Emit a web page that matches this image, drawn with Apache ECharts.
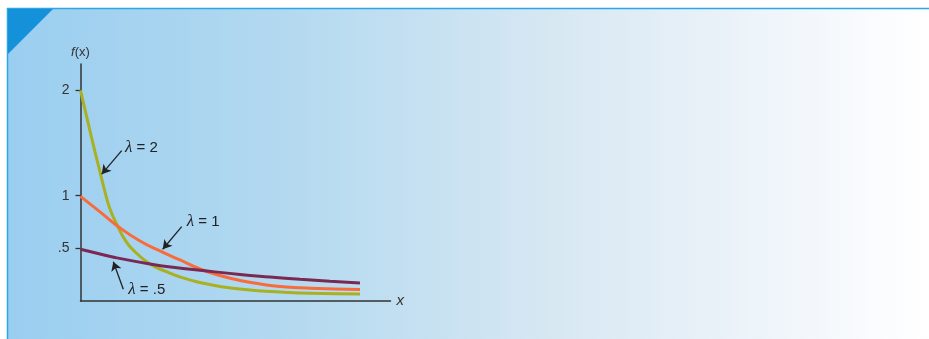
<!DOCTYPE html>
<html><head><meta charset="utf-8">
<script src="https://cdn.jsdelivr.net/npm/echarts@6/dist/echarts.min.js"></script>
<style>html,body{margin:0;padding:0;background:#fff}#c{width:929px;height:339px}</style>
</head><body><div id="c"></div>
<script>
// Curves: [x, f(x)]
const lambda2 = [[0,2.0],[0.095,1.615],[0.145,1.416],[0.195,1.226],[0.245,1.036],[0.295,0.874],[0.375,0.703],[0.445,0.58],[0.525,0.485],[0.695,0.352],[0.865,0.276],[1.025,0.219],[1.195,0.176],[1.395,0.138],[1.695,0.105],[1.995,0.086],[2.295,0.073],[2.795,0.067]];
const lambda1 = [[0,0.993],[0.195,0.846],[0.375,0.708],[0.595,0.57],[0.815,0.466],[0.995,0.39],[1.195,0.304],[1.395,0.242],[1.595,0.195],[1.795,0.162],[1.995,0.138],[2.295,0.121],[2.795,0.109]];
const lambdaHalf = [[0,0.491],[0.195,0.447],[0.345,0.413],[0.695,0.352],[0.945,0.318],[1.195,0.292],[1.595,0.252],[1.895,0.228],[2.195,0.206],[2.495,0.187],[2.795,0.171]];
const yTicks = [0.5, 1, 2];
const yTickLabels = {0.5: '.5', 1: '1', 2: '2'};
const seriesNames = ['λ = 2', 'λ = 1', 'λ = .5'];
const seriesLambda = ['2', '1', '.5'];
// annotation arrows: [from, to] and label anchor (data units)
const arrow2 = [[0.412,1.428],[0.212,1.204]];
const arrow1 = [[1.012,0.706],[0.822,0.491]];
const arrowHalf = [[0.428,0.111],[0.328,0.373]];
const label2 = [0.445,1.454];
const label1 = [1.062,0.75];
const labelHalf = [0.478,0.105];

const chart = echarts.init(document.getElementById('c'), null, {renderer:'canvas'});
const FONT = '"Liberation Sans", Arial, sans-serif';
function ann(from, to, lab, lam){
  return {
    markLine: {
      silent: true, symbol: ['none','arrow'], symbolSize: [8,9],
      lineStyle: {color:'#222', width:1.3, type:'solid'},
      label: {show:false},
      data: [[{coord: from}, {coord: to}]]
    },
    markPoint: {
      silent: true, symbol: 'circle', symbolSize: 0,
      data: [{coord: lab}],
      label: {show:true, position:'right', distance:0, formatter: '{l|λ} = ' + lam, color:'#222',
        fontFamily: FONT, fontSize: 15,
        rich: {l: {fontFamily: '"Liberation Serif", serif', fontStyle:'italic', fontSize:17, color:'#222'}}}
    }
  };
}
const common = {type:'line', smooth:0.5, showSymbol:false, silent:true, z:3};
chart.setOption({
  backgroundColor: '#ffffff',
  animation: false,
  graphic: [
    {type:'rect', z:-10, shape:{x:8,y:9,width:921,height:330},
      style:{fill:{type:'linear',x:0,y:0,x2:1,y2:0,colorStops:[
        {offset:0,color:'#9ACEF0'},{offset:0.3,color:'#B3D9F0'},
        {offset:0.6,color:'#D8E8F3'},{offset:0.85,color:'#F1F6FB'},{offset:1,color:'#FFFFFF'}]}}},
    {type:'line', z:-9, shape:{x1:7,y1:8.5,x2:929,y2:8.5}, style:{stroke:'#2BA7E7',lineWidth:1.5}},
    {type:'line', z:-9, shape:{x1:7.5,y1:8,x2:7.5,y2:339}, style:{stroke:'#2BA7E7',lineWidth:1.5}},
    {type:'polygon', z:-8, shape:{points:[[8,9],[53,9],[8,54]]}, style:{fill:'#1591D9'}}
  ],
  grid: {left:80.5, right:538.5, top:64, bottom:38, containLabel:false},
  xAxis: {
    type:'value', min:0, max:3.1,
    name:'x', nameLocation:'end', nameGap:6,
    nameTextStyle:{fontFamily:FONT, fontSize:15, fontStyle:'italic', color:'#333', verticalAlign:'middle'},
    axisLine:{show:true, onZero:false, lineStyle:{color:'#333', width:1.5}},
    axisTick:{show:false}, axisLabel:{show:false}, splitLine:{show:false}
  },
  yAxis: {
    type:'value', min:0, max:2.25,
    name:'{i|f}(x)', nameLocation:'end', nameGap:5,
    nameTextStyle:{fontFamily:FONT, fontSize:13, color:'#333', align:'center',
      rich:{i:{fontStyle:'italic', fontFamily:FONT, fontSize:13, color:'#333'}}},
    axisLine:{show:true, onZero:false, lineStyle:{color:'#333', width:1.5}},
    axisTick:{show:true, length:5, customValues: yTicks, lineStyle:{color:'#333', width:1.3}},
    axisLabel:{show:true, margin:11, customValues: yTicks, fontFamily:FONT, fontSize:14, color:'#333',
      formatter: v => yTickLabels[v] || ''},
    splitLine:{show:false}
  },
  series: [
    Object.assign({}, common, {name:seriesNames[0], data:lambda2, lineStyle:{color:'#A9B021', width:3}}, ann(arrow2[0], arrow2[1], label2, seriesLambda[0])),
    Object.assign({}, common, {name:seriesNames[1], data:lambda1, lineStyle:{color:'#FA6B3A', width:3}}, ann(arrow1[0], arrow1[1], label1, seriesLambda[1])),
    Object.assign({}, common, {name:seriesNames[2], data:lambdaHalf, lineStyle:{color:'#7A2952', width:3}}, ann(arrowHalf[0], arrowHalf[1], labelHalf, seriesLambda[2]))
  ]
});
</script></body></html>
